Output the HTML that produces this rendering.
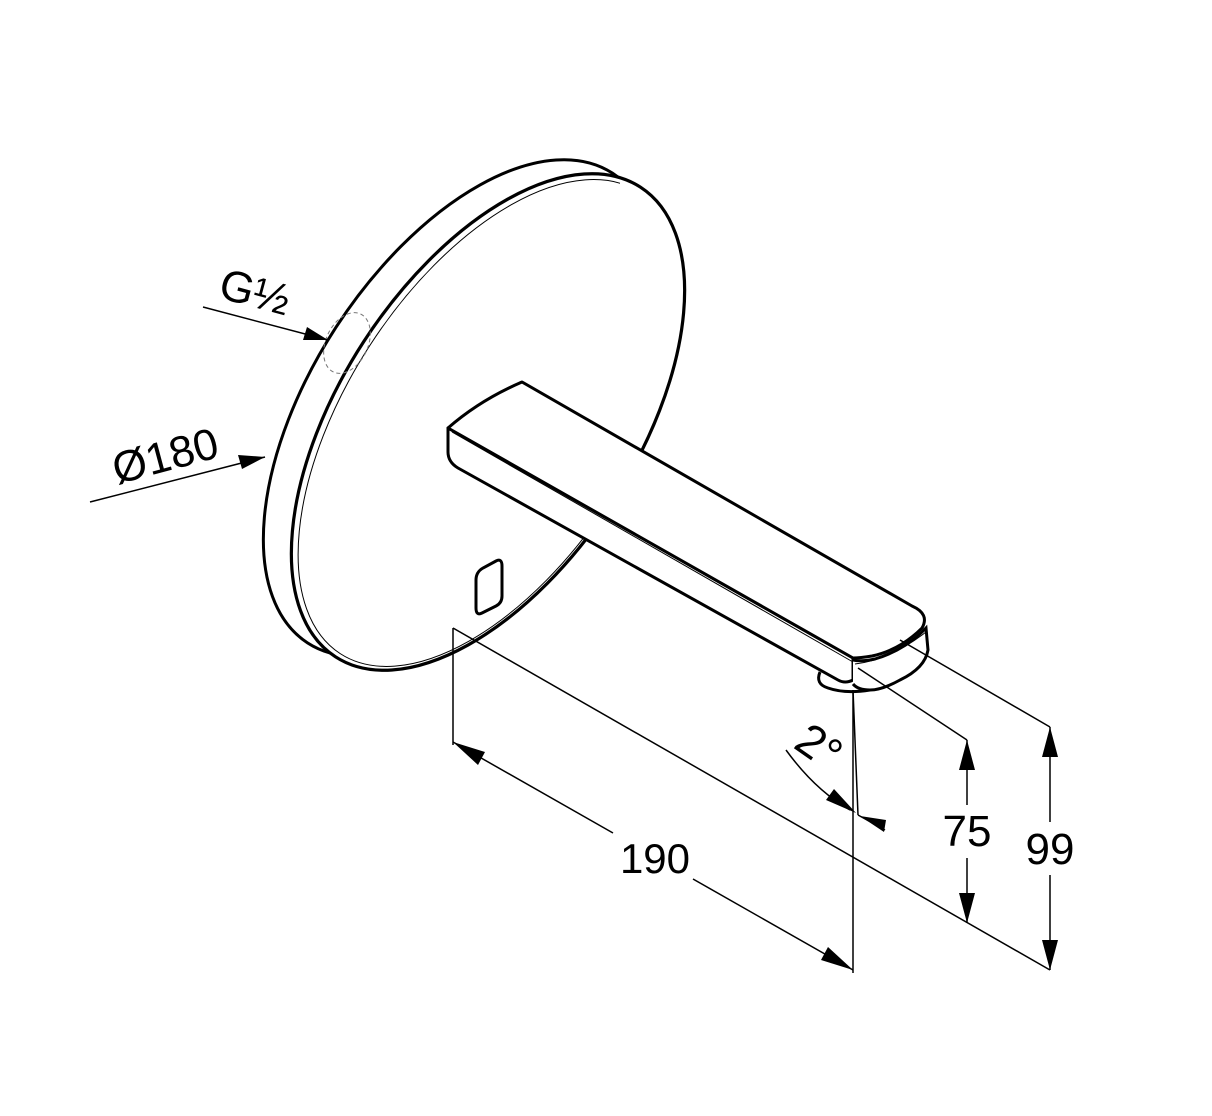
<!DOCTYPE html>
<html><head><meta charset="utf-8"><style>
html,body{margin:0;padding:0;background:#fff;}
svg{display:block;}
text{font-family:"Liberation Sans",sans-serif;fill:#000;}
</style></head><body>
<svg width="1212" height="1116" viewBox="0 0 1212 1116" xmlns="http://www.w3.org/2000/svg">
<defs>
<clipPath id="lc"><rect x="0" y="0" width="620" height="1116"/></clipPath>
</defs>
<!-- back rim ellipse -->
<ellipse cx="460" cy="408" rx="280" ry="148" transform="rotate(-57 460 408)" fill="#fff" stroke="#000" stroke-width="3"/>
<!-- front face -->
<ellipse cx="488" cy="422" rx="280" ry="148" transform="rotate(-57 488 422)" fill="#fff" stroke="#000" stroke-width="3.2"/>
<g clip-path="url(#lc)">
<ellipse cx="490" cy="423" rx="275" ry="143" transform="rotate(-57 490 423)" fill="none" stroke="#000" stroke-width="1"/>
</g>
<!-- dashed G1/2 circle -->
<ellipse cx="347" cy="343" rx="21" ry="32" transform="rotate(25 347 343)" fill="none" stroke="#777" stroke-width="1" stroke-dasharray="4,3"/>
<!-- sensor window -->
<path d="M476 580 Q476 572 483 568 L496 561 Q502 558 502 566 L502 596 Q502 603 496 606 L482 613 Q476 616 476 608 Z" fill="none" stroke="#000" stroke-width="3"/>
<!-- spout side face -->
<path d="M448 428 L853 658 L853 680 Q845 684 838 680 L458 468 Q448 462 448 452 Z" fill="#fff" stroke="#000" stroke-width="3" stroke-linejoin="round"/>
<!-- spout top face -->
<path d="M448 428 Q480 400 522 382 L912 606 Q930 614 922 628 Q900 650 872 656 Q860 658 853 658 Z" fill="#fff" stroke="#000" stroke-width="3" stroke-linejoin="round"/>
<line x1="452" y1="432" x2="853" y2="662" stroke="#000" stroke-width="1"/>
<!-- front end -->
<path d="M853 660 Q862 662 875 659 Q905 650 926 628 L928 650 Q925 668 900 680 Q882 690 870 690 Q858 690 853 684" fill="#fff" stroke="#000" stroke-width="3"/>
<path d="M855 664 Q890 660 926 632" fill="none" stroke="#000" stroke-width="1"/>
<!-- aerator -->
<path d="M820 672 Q815 684 828 688 Q845 694 870 690" fill="none" stroke="#000" stroke-width="3"/>
<!-- dimension lines -->
<g stroke="#000" stroke-width="1.5" fill="none">
<line x1="453" y1="628" x2="453" y2="745"/>
<line x1="853" y1="690" x2="853" y2="973"/>
<line x1="853" y1="690" x2="858" y2="815"/>
<line x1="453" y1="628" x2="1050" y2="970"/>
<line x1="453" y1="742" x2="613" y2="833"/>
<line x1="693" y1="879" x2="853" y2="970"/>
<line x1="858" y1="668" x2="967" y2="740"/>
<line x1="900" y1="640" x2="1050" y2="727"/>
<line x1="967" y1="740" x2="967" y2="805"/>
<line x1="967" y1="858" x2="967" y2="923"/>
<line x1="1050" y1="727" x2="1050" y2="822"/>
<line x1="1050" y1="875" x2="1050" y2="970"/>
<path d="M786 750 Q815 790 850 810"/>
<line x1="858" y1="815" x2="885" y2="830"/>
<line x1="90" y1="502" x2="265" y2="457"/>
<line x1="203" y1="307" x2="328" y2="340"/>
</g>
<g fill="#000">
<polygon points="453,742 485,752 478,765"/>
<polygon points="853,970 821,960 828,947"/>
<polygon points="967,740 959,770 975,770"/>
<polygon points="967,923 959,893 975,893"/>
<polygon points="1050,727 1042,757 1058,757"/>
<polygon points="1050,970 1042,940 1058,940"/>
<polygon points="856,813 826,800 834,789"/>
<polygon points="860,816 886,820 884,832"/>
<polygon points="265,457 242,469 238,455"/>
<polygon points="328,340 303,340 307,327"/>
</g>
<text x="655" y="873" font-size="42" text-anchor="middle">190</text>
<text x="967" y="846" font-size="44" text-anchor="middle">75</text>
<text x="1050" y="864" font-size="44" text-anchor="middle">99</text>
<text x="818" y="762" font-size="46" text-anchor="middle" transform="rotate(35 818 748)">2°</text>
<text x="165" y="471" font-size="44" text-anchor="middle" transform="rotate(-15 165 455)">Ø180</text>
<text x="255" y="307" font-size="44" text-anchor="middle" transform="rotate(15 255 292)">G½</text>
</svg>
</body></html>
